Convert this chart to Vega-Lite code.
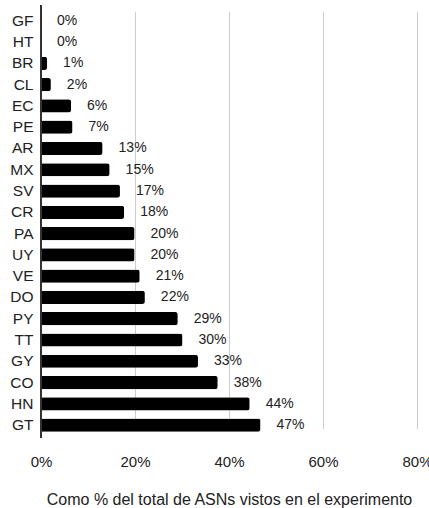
{
  "$schema": "https://vega.github.io/schema/vega-lite/v6.json",
  "width": 376,
  "height": 433,
  "autosize": {"type": "none"},
  "padding": {"left": 41, "top": 5, "right": 12, "bottom": 70},
  "config": {
    "font": "Liberation Sans",
    "view": {"stroke": null},
    "axis": {"labelColor": "#222222", "titleColor": "#222222"}
  },
  "data": {
    "values": [
      {"pais": "GF", "valor": 0.0, "etiqueta": "0%"},
      {"pais": "HT", "valor": 0.0, "etiqueta": "0%"},
      {"pais": "BR", "valor": 1.3, "etiqueta": "1%"},
      {"pais": "CL", "valor": 2.1, "etiqueta": "2%"},
      {"pais": "EC", "valor": 6.4, "etiqueta": "6%"},
      {"pais": "PE", "valor": 6.7, "etiqueta": "7%"},
      {"pais": "AR", "valor": 13.1, "etiqueta": "13%"},
      {"pais": "MX", "valor": 14.6, "etiqueta": "15%"},
      {"pais": "SV", "valor": 16.8, "etiqueta": "17%"},
      {"pais": "CR", "valor": 17.7, "etiqueta": "18%"},
      {"pais": "PA", "valor": 19.9, "etiqueta": "20%"},
      {"pais": "UY", "valor": 19.9, "etiqueta": "20%"},
      {"pais": "VE", "valor": 21.0, "etiqueta": "21%"},
      {"pais": "DO", "valor": 22.1, "etiqueta": "22%"},
      {"pais": "PY", "valor": 29.1, "etiqueta": "29%"},
      {"pais": "TT", "valor": 30.1, "etiqueta": "30%"},
      {"pais": "GY", "valor": 33.4, "etiqueta": "33%"},
      {"pais": "CO", "valor": 37.6, "etiqueta": "38%"},
      {"pais": "HN", "valor": 44.4, "etiqueta": "44%"},
      {"pais": "GT", "valor": 46.7, "etiqueta": "47%"}
    ]
  },
  "encoding": {
    "y": {
      "field": "pais",
      "type": "nominal",
      "sort": null,
      "scale": {"paddingInner": 0.38, "paddingOuter": 0, "range": [9.2, 426.7]},
      "axis": {
        "title": null,
        "ticks": false,
        "domain": false,
        "labelFontSize": 15.5,
        "labelPadding": 8
      }
    },
    "x": {
      "field": "valor",
      "type": "quantitative",
      "scale": {"domain": [0, 80]},
      "axis": {
        "title": "Como % del total de ASNs vistos en el experimento",
        "titleFontSize": 16,
        "titleFontWeight": "normal",
        "titlePadding": 22,
        "values": [0, 20, 40, 60, 80],
        "labelExpr": "datum.value + '%'",
        "labelFontSize": 15,
        "labelPadding": 16,
        "ticks": false,
        "domain": false,
        "grid": true,
        "gridColor": "#cccccc",
        "gridWidth": 1,
        "labelFlush": false
      }
    }
  },
  "layer": [
    {
      "mark": {"type": "bar", "color": "#000000", "cornerRadiusEnd": 2.5}
    },
    {
      "mark": {"type": "rule", "color": "#333333", "strokeWidth": 1.5},
      "encoding": {"x": {"datum": 0}, "y": null}
    },
    {
      "mark": {"type": "text", "align": "left", "baseline": "middle", "dx": 16, "fontSize": 14, "color": "#222222"},
      "encoding": {"text": {"field": "etiqueta"}}
    }
  ]
}
